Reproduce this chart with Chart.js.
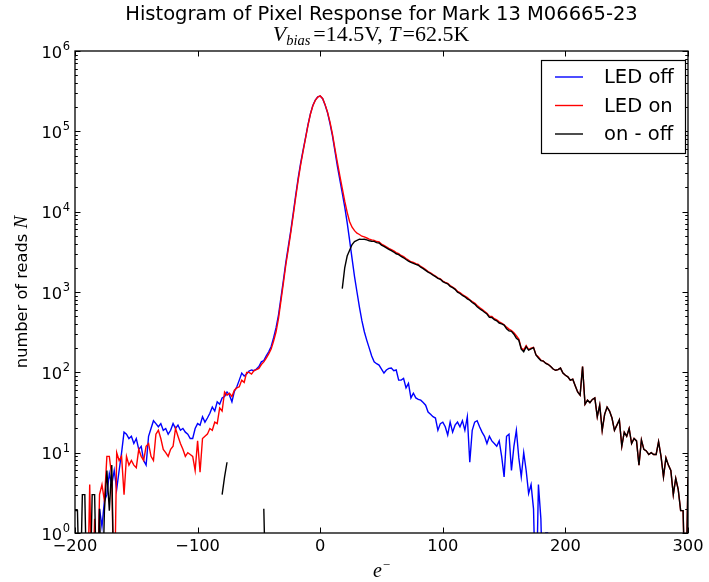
<!DOCTYPE html>
<html>
<head>
<meta charset="utf-8">
<script src="https://cdn.jsdelivr.net/npm/chart.js@4.4.0/dist/chart.umd.min.js"></script>
<style>
  html, body { margin: 0; padding: 0; background: #fff; }
  #wrap { width: 709px; height: 582px; }
</style>
</head>
<body>
<div id="wrap"><canvas id="histChart" width="709" height="582"></canvas></div>
<script>
// ---- data (2 e- bins) ----
var binCenters = [
  -200, -198, -196, -194, -192, -190, -188, -186, -184, -182,
  -180, -178, -176, -174, -172, -170, -168, -166, -164, -162,
  -160, -158, -156, -154, -152, -150, -148, -146, -144, -142,
  -140, -138, -136, -134, -132, -130, -128, -126, -124, -122,
  -120, -118, -116, -114, -112, -110, -108, -106, -104, -102,
  -100, -98, -96, -94, -92, -90, -88, -86, -84, -82,
  -80, -78, -76, -74, -72, -70, -68, -66, -64, -62,
  -60, -58, -56, -54, -52, -50, -48, -46, -44, -42,
  -40, -38, -36, -34, -32, -30, -28, -26, -24, -22,
  -20, -18, -16, -14, -12, -10, -8, -6, -4, -2,
  0, 2, 4, 6, 8, 10, 12, 14, 16, 18,
  20, 22, 24, 26, 28, 30, 32, 34, 36, 38,
  40, 42, 44, 46, 48, 50, 52, 54, 56, 58,
  60, 62, 64, 66, 68, 70, 72, 74, 76, 78,
  80, 82, 84, 86, 88, 90, 92, 94, 96, 98,
  100, 102, 104, 106, 108, 110, 112, 114, 116, 118,
  120, 122, 124, 126, 128, 130, 132, 134, 136, 138,
  140, 142, 144, 146, 148, 150, 152, 154, 156, 158,
  160, 162, 164, 166, 168, 170, 172, 174, 176, 178,
  180, 182, 184, 186, 188, 190, 192, 194, 196, 198,
  200, 202, 204, 206, 208, 210, 212, 214, 216, 218,
  220, 222, 224, 226, 228, 230, 232, 234, 236, 238,
  240, 242, 244, 246, 248, 250, 252, 254, 256, 258,
  260, 262, 264, 266, 268, 270, 272, 274, 276, 278,
  280, 282, 284, 286, 288, 290, 292, 294, 296, 298,
  300
];

var ledOff = [
  null, null, null, null, null, null, null, null, null, 0,
  2, 1.2, 2.5, 3, 5.5, 4, 6, 3.5, 6, 10,
  18, 17, 15, 16, 13, 15, 11, 12, 8, 7,
  16, 20, 25, 23, 21, 23, 19, 20, 17, 19,
  23, 20, 22, 19, 20, 18, 17, 15, 15, 20,
  23, 22, 28, 24, 27, 31, 37, 33, 43, 40,
  48, 50, 57, 52, 43, 58, 66, 80, 98, 90,
  95, 104, 107, 105, 110, 118, 135, 140, 160, 180,
  210, 270, 360, 520, 850, 1410, 2350, 3700, 5800, 9600,
  16000, 26000, 40000, 58000, 83000, 120000, 165000, 210000, 245000, 268000,
  275000, 255000, 213000, 170000, 125000, 88000, 57000, 37000, 25000, 17000,
  11500, 7300, 4400, 2600, 1550, 1000, 650, 440, 320, 250,
  200, 160, 135, 128, 123, 110, 98, 107, 112, 113,
  105, 107, 80, 80, 84, 64, 73, 48, 55, 48,
  46, 45, 42, 39, 32, 30, 28, 27, 19, 23,
  24, 21, 16.6, 24, 18, 22, 24, 21, 25, 19,
  28, 7.6, 19, 24, 25, 21, 18, 16, 13, 16,
  14, 13, 12, 14, 9, 5, 16, 17, 6, 12,
  19, 8.6, 5, 10, 6, 3.1, 4, 2, 0, 4,
  1.5, 0, 1, 1, null, null, null, null, null, null,
  null, null, null, null, null, null, null, null, null, null,
  null, null, null, null, null, null, null, null, null, null,
  null, null, null, null, null, null, null, null, null, null,
  null, null, null, null, null, null, null, null, null, null,
  null, null, null, null, null, null, null, null, null, null,
  null
];

var ledOn = [
  null, null, null, null, null, 0, 4, 0, 1.5, 0,
  3, 4, 2.5, 9, 9, 5, 0, 10, 8, 9,
  3, 9, 7, 8, 7, 6.5, 11, 9, 8, 12,
  13, 9, 8, 17, 19, 15, 11, 10, 9, 11,
  12, 20, 16, 13, 11, 9, 10, 9.5, 9, 6,
  14, 5.7, 15, 16, 17, 20, 19, 24, 23, 36,
  33, 57, 52, 55, 50, 60, 64, 66, 80, 75,
  100, 100, 95, 105, 108, 112, 125, 135, 150, 170,
  195, 245, 320, 470, 780, 1300, 2200, 3450, 5500, 9000,
  15000, 24500, 38000, 56000, 81000, 118000, 163000, 208000, 243000, 267000,
  276000, 257000, 215000, 173000, 130000, 92000, 61000, 41000, 28000, 19500,
  13500, 9800, 7500, 6400, 5800, 5400, 5200, 4950, 4850, 4700,
  4550, 4450, 4400, 4250, 4200, 3950, 3800, 3650, 3500, 3380,
  3250, 3100, 3000, 2850, 2750, 2600, 2500, 2380, 2330, 2250,
  2200, 2080, 2000, 1900, 1800, 1730, 1650, 1580, 1500, 1460,
  1370, 1320, 1280, 1200, 1150, 1100, 1020, 980, 930, 890,
  850, 800, 760, 730, 680, 640, 610, 575, 545, 500,
  495, 465, 450, 425, 410, 392, 365, 345, 330, 310,
  285, 260, 200, 190, 215, 192, 200, 205, 165, 155,
  142, 138, 130, 126, 118, 110, 106, 108, 113, 98,
  92, 88, 80, 82, 68, 57, 52, 118, 40, 45,
  42, 46, 48, 28, 39, 19, 30, 37, 33, 27,
  19, 22, 25.6, 12, 18, 16, 20, 13, 15, 14,
  7, 14.4, 11, 10.5, 9.5, 10, 9.5, 9.5, 13.7, 9,
  5, 8.6, 7, 6, 3, 4.8, 3.5, 1.9, 1.9, 0,
  4.8
];

// on - off: only the positive differences show on the log axis
var onMinusOff = [
  1.9, 1.9, 0, 3, 3, 0, 0, 3, 3, 0,
  2, 0, 1.9, 6, 1.9, 7, 0, null, null, null,
  null, null, null, null, null, null, null, null, null, null,
  null, null, null, null, null, null, null, null, null, null,
  null, null, null, null, null, null, null, null, null, null,
  null, null, null, null, null, null, null, null, null, null,
  3, 5, 7.6, null, null, null, null, null, null, null,
  null, null, null, null, null, null, null, 2, 0, null,
  null, null, null, null, null, null, null, null, null, null,
  null, null, null, null, null, null, null, null, null, null,
  null, null, null, null, null, null, null, null, null, 1100,
  2000, 2800, 3300, 3900, 4250, 4400, 4550, 4520, 4530, 4450,
  4350, 4290, 4265, 4122, 4077, 3840, 3702, 3543, 3388, 3267,
  3145, 2993, 2920, 2770, 2666, 2536, 2427, 2332, 2275, 2202,
  2154, 2035, 1958, 1861, 1768, 1700, 1622, 1553, 1481, 1437,
  1346, 1299, 1263, 1176, 1132, 1078, 996, 959, 905, 871,
  822, 792, 741, 706, 655, 619, 592, 559, 532, 484,
  481, 452, 438, 411, 401, 387, 349, 328, 324, 298,
  266, 251, 195, 180, 209, 189, 196, 203, 165, 151,
  140, 138, 129, 125, 118, 110, 106, 108, 113, 98,
  92, 88, 80, 82, 68, 57, 52, 118, 40, 45,
  42, 46, 48, 28, 39, 19, 30, 37, 33, 27,
  19, 22, 25.6, 12, 18, 16, 20, 13, 15, 14,
  7, 14.4, 11, 10.5, 9.5, 10, 9.5, 9.5, 13.7, 9,
  5, 8.6, 7, 6, 3, 4.8, 3.5, 1.9, 1.9, 0,
  4.8
];

var xTicks = [-200, -100, 0, 100, 200, 300];
var yTicks = [1, 10, 100, 1000, 10000, 100000, 1000000];
var yTickExp = ['0', '1', '2', '3', '4', '5', '6'];

var seriesNames = ['LED off', 'LED on', 'on - off'];
var seriesColors = ['#0000ff', '#ff0000', '#000000'];

var titleText = 'Histogram of Pixel Response for Mark 13 M06665-23';

// empty bins (0 counts) drop off the bottom of the log axis, like the original plot
function toPoints(xs, ys) {
  return xs.map(function (x, i) {
    var y = ys[i];
    return { x: x, y: y === 0 ? 0.1 : y };
  });
}

var SANS = '"DejaVu Sans", sans-serif';
var SERIF = '"Liberation Serif", "DejaVu Serif", serif';

// draw a row of text pieces, each with its own font / vertical shift
function drawPieces(ctx, pieces, cx, baseY) {
  var total = 0;
  pieces.forEach(function (p) {
    ctx.font = p.font;
    p.w = ctx.measureText(p.t).width + (p.gap || 0);
    total += p.w;
  });
  var x = cx - total / 2;
  ctx.textAlign = 'left';
  ctx.textBaseline = 'alphabetic';
  pieces.forEach(function (p) {
    ctx.font = p.font;
    ctx.fillText(p.t, x, baseY + (p.dy || 0));
    x += p.w;
  });
}

var decorPlugin = {
  id: 'decor',
  afterDraw: function (chart) {
    var ctx = chart.ctx;
    var area = chart.chartArea;
    var xs = chart.scales.x;
    var ys = chart.scales.y;
    var midX = (area.left + area.right) / 2;

    ctx.save();
    ctx.fillStyle = '#000';
    ctx.strokeStyle = '#000';

    // ticks (inside, on all four sides)
    ctx.lineWidth = 1;
    ctx.beginPath();
    xTicks.forEach(function (v) {
      var px = Math.round(xs.getPixelForValue(v)) + 0.5;
      ctx.moveTo(px, area.bottom); ctx.lineTo(px, area.bottom - 5.5);
      ctx.moveTo(px, area.top); ctx.lineTo(px, area.top + 5.5);
    });
    yTicks.forEach(function (v, i) {
      var py = Math.round(ys.getPixelForValue(v)) + 0.5;
      ctx.moveTo(area.left, py); ctx.lineTo(area.left + 5.5, py);
      ctx.moveTo(area.right, py); ctx.lineTo(area.right - 5.5, py);
      if (i < yTicks.length - 1) {
        for (var m = 2; m <= 9; m++) {
          var pm = Math.round(ys.getPixelForValue(v * m)) + 0.5;
          ctx.moveTo(area.left, pm); ctx.lineTo(area.left + 2.8, pm);
          ctx.moveTo(area.right, pm); ctx.lineTo(area.right - 2.8, pm);
        }
      }
    });
    ctx.stroke();

    // frame
    ctx.lineWidth = 1.3;
    ctx.strokeRect(area.left, area.top, area.right - area.left, area.bottom - area.top);

    // x tick labels
    ctx.font = '16.25px ' + SANS;
    ctx.textAlign = 'center';
    ctx.textBaseline = 'top';
    xTicks.forEach(function (v) {
      var lbl = v < 0 ? '\u2212' + Math.abs(v) : String(v);
      ctx.fillText(lbl, xs.getPixelForValue(v), area.bottom + 6);
    });

    // y tick labels: 10 with raised exponent
    ctx.textBaseline = 'alphabetic';
    ctx.textAlign = 'left';
    yTicks.forEach(function (v, i) {
      var py = ys.getPixelForValue(v);
      ctx.font = '16.25px ' + SANS;
      var w1 = ctx.measureText('10').width;
      ctx.font = '11.5px ' + SANS;
      var w2 = ctx.measureText(yTickExp[i]).width;
      var x0 = area.left - 5.5 - w1 - w2;
      ctx.font = '16.25px ' + SANS;
      ctx.fillText('10', x0, py + 6.5);
      ctx.font = '11.5px ' + SANS;
      ctx.fillText(yTickExp[i], x0 + w1 + 0.5, py - 1);
    });

    // title lines
    ctx.font = '19.5px ' + SANS;
    ctx.textAlign = 'center';
    ctx.fillText(titleText, midX, 20);
    drawPieces(ctx, [
      { t: 'V', font: 'italic 22px ' + SERIF },
      { t: 'bias', font: 'italic 14.5px ' + SERIF, dy: 4, gap: 3 },
      { t: '=14.5V, ', font: '22px ' + SERIF },
      { t: 'T', font: 'italic 22px ' + SERIF, gap: 2 },
      { t: '=62.5K', font: '22px ' + SERIF }
    ], 371, 41);

    // x axis label
    drawPieces(ctx, [
      { t: 'e', font: 'italic 20px ' + SERIF, gap: 1 },
      { t: '\u2212', font: '13px ' + SERIF, dy: -8 }
    ], midX, 577);

    // y axis label (rotated)
    ctx.save();
    ctx.translate(21, (area.top + area.bottom) / 2);
    ctx.rotate(-Math.PI / 2);
    drawPieces(ctx, [
      { t: 'number of reads ', font: '16.25px ' + SANS },
      { t: 'N', font: 'italic 19px ' + SERIF }
    ], 0, 6);
    ctx.restore();

    // legend
    var lx = 541.5, ly = 60.5, lw = 144, lh = 93;
    ctx.fillStyle = '#fff';
    ctx.fillRect(lx, ly, lw, lh);
    ctx.lineWidth = 1.2;
    ctx.strokeStyle = '#000';
    ctx.strokeRect(lx, ly, lw, lh);
    var rowsY = [77, 105.5, 134];
    ctx.font = '19.5px ' + SANS;
    ctx.textAlign = 'left';
    ctx.textBaseline = 'middle';
    seriesNames.forEach(function (name, i) {
      ctx.strokeStyle = seriesColors[i];
      ctx.lineWidth = 1.4;
      ctx.beginPath();
      ctx.moveTo(555, rowsY[i]);
      ctx.lineTo(583, rowsY[i]);
      ctx.stroke();
      ctx.fillStyle = '#000';
      ctx.fillText(name, 604, rowsY[i] + 1);
    });

    ctx.restore();
  }
};

var datasets = [
  { label: seriesNames[0], data: toPoints(binCenters, ledOff), borderColor: seriesColors[0], order: 3 },
  { label: seriesNames[1], data: toPoints(binCenters, ledOn), borderColor: seriesColors[1], order: 2 },
  { label: seriesNames[2], data: toPoints(binCenters, onMinusOff), borderColor: seriesColors[2], order: 1 }
].map(function (d) {
  d.borderWidth = 1.4;
  d.pointRadius = 0;
  d.tension = 0;
  d.fill = false;
  d.spanGaps = false;
  return d;
});

new Chart(document.getElementById('histChart'), {
  type: 'line',
  data: { datasets: datasets },
  options: {
    responsive: false,
    animation: false,
    events: [],
    layout: { padding: { left: 75, right: 21, top: 51, bottom: 49 } },
    plugins: {
      legend: { display: false },
      title: { display: false },
      tooltip: { enabled: false }
    },
    scales: {
      x: { type: 'linear', min: -200, max: 300, display: false },
      y: { type: 'logarithmic', min: 1, max: 1000000, display: false }
    }
  },
  plugins: [decorPlugin]
});
</script>
</body>
</html>
